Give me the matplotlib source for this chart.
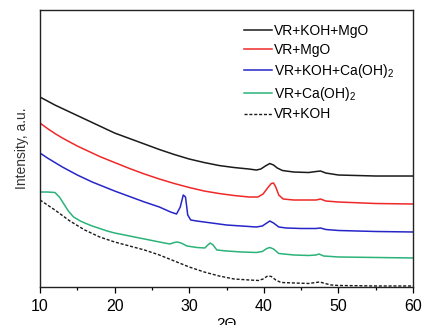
import matplotlib
matplotlib.use("Agg")
import matplotlib.pyplot as plt

plt.rcParams['font.family'] = ['Liberation Sans', 'DejaVu Sans']
plt.rcParams['mathtext.default'] = 'regular'

# XRD patterns (y in arbitrary units, offset already applied)
x_kmgo = [10, 11, 12, 13, 14, 15, 16, 17, 18, 19, 20, 22, 24, 26, 28, 30, 32, 34, 36, 38, 39, 39.6,
          40.2, 40.8, 41.3, 41.8, 42.5, 44, 46, 47, 47.6, 48.3, 50, 55, 60]
y_kmgo = [190, 186, 182, 178.5, 175, 171.5, 168, 164.5, 161, 157.5, 154, 148.5, 143, 137.5, 132.5,
          128, 124.5, 121.5, 119.5, 118, 117, 118, 121, 123.5, 122, 119, 116.5, 115, 114.5, 115.5,
          116, 114, 112, 111, 111]

x_mgo = [10, 11, 12, 13, 14, 15, 16, 17, 18, 19, 20, 22, 24, 26, 28, 30, 32, 34, 36, 38, 39.2, 39.9,
         40.5, 41.0, 41.3, 41.6, 42.0, 42.6, 44, 46, 47, 47.6, 48.3, 50, 55, 60]
y_mgo = [164, 158.5, 153.5, 149, 145, 141, 137.5, 134, 130.5, 127.5, 124.5, 118.5, 113, 108,
         103.5, 99.5, 96, 93.5, 91.5, 90, 90, 93, 99, 103.5, 104, 100, 92, 88, 87, 87, 87, 88,
         86, 85, 83.5, 83]

x_kca = [10, 11, 12, 13, 14, 15, 16, 17, 18, 19, 20, 22, 24, 26, 27.5, 28.3, 28.8, 29.2, 29.5, 29.8,
         30.2, 31, 33, 35, 37, 39, 39.8, 40.4, 40.8, 41.3, 42, 43, 45, 47, 47.6, 48.3, 50, 55, 60]
y_kca = [134, 129, 124.5, 120, 116, 112, 108.5, 105, 102, 99, 96, 90.5, 85, 80, 75, 73, 80, 92, 90, 72,
         67, 66, 64, 62, 61, 60, 61, 64, 66, 64, 60, 59, 58.5, 58.5, 59, 57.5, 56.5, 55.5, 55]

x_ca = [10, 11, 12, 12.6, 13.2, 13.8, 14.5, 15.4, 16, 17, 18, 19, 20, 22, 24, 26, 27.4, 28.0,
        28.4, 28.9, 29.7, 31, 32.1, 32.5, 32.8, 33.2, 33.7, 35, 37, 39, 39.8, 40.4,
        40.8, 41.3, 42, 44, 46, 47, 47.4, 48, 50, 55, 60]
y_ca = [95, 95, 94.5, 90, 83, 76, 70, 66, 64, 61, 58.5, 56, 54, 51, 48, 45, 43, 44.5,
        45, 44, 41, 39.5, 39, 42, 44, 42, 37, 36, 35, 34.5, 35.5, 38.5,
        39.5, 38, 33.5, 32, 31.5, 32, 33, 31, 30, 29.5, 29]

x_koh = [10, 11, 12, 13, 14, 15, 16, 17, 18, 19, 20, 22, 24, 26, 28, 30, 32, 34, 36, 38, 39.3, 39.9,
         40.5, 41.0, 41.6, 42.3, 44, 46, 47, 47.5, 48.2, 49, 50, 55, 60]
y_koh = [87, 82, 77, 71.5, 66, 61.5, 57, 53.5, 50, 47.5, 45, 41, 37, 32, 26, 20, 15, 11, 8, 7, 6.5, 8,
         11, 10.5, 7, 4.5, 4, 3.5, 4.5, 5, 3.5, 2, 1.5, 1, 1]

labels = ['VR+KOH+MgO', 'VR+MgO', 'VR+KOH+Ca(OH)$_2$', 'VR+Ca(OH)$_2$', 'VR+KOH']

fig = plt.figure(figsize=(4.22, 3.25), dpi=100)
ax = fig.add_axes([0.0948, 0.117, 0.884, 0.852])

ax.plot(x_kmgo, y_kmgo, color='#1a1a1a', lw=1.1, label=labels[0])
ax.plot(x_mgo, y_mgo, color='#f02828', lw=1.1, label=labels[1])
ax.plot(x_kca, y_kca, color='#2626c8', lw=1.1, label=labels[2])
ax.plot(x_ca, y_ca, color='#2bb37a', lw=1.1, label=labels[3])
ax.plot(x_koh, y_koh, color='#1a1a1a', lw=1.0, ls=(0, (2.2, 1.3)), label=labels[4])

ax.set_xlim(10, 60)
ax.set_ylim(0, 277)
ax.set_xticks([10, 20, 30, 40, 50, 60])
ax.set_xticks([15, 25, 35, 45, 55], minor=True)
ax.set_yticks([])
ax.tick_params(axis='x', direction='out', length=4, width=0.9, labelsize=11.5, pad=5)
ax.tick_params(axis='x', which='minor', direction='out', length=2.5, width=0.9)
for sp in ax.spines.values():
    sp.set_linewidth(1.0)
    sp.set_color('#222222')

ax.set_ylabel('Intensity, a.u.', fontsize=10, color='#333333', labelpad=8)
ax.set_xlabel('2\u0398', fontsize=11, labelpad=2)

ax.legend(loc='upper right', frameon=False, fontsize=10, handlelength=2.0,
          handletextpad=0.1, labelspacing=0.35, borderaxespad=0.3,
          bbox_to_anchor=(0.975, 0.985))

fig.savefig('out.png', dpi=100)
